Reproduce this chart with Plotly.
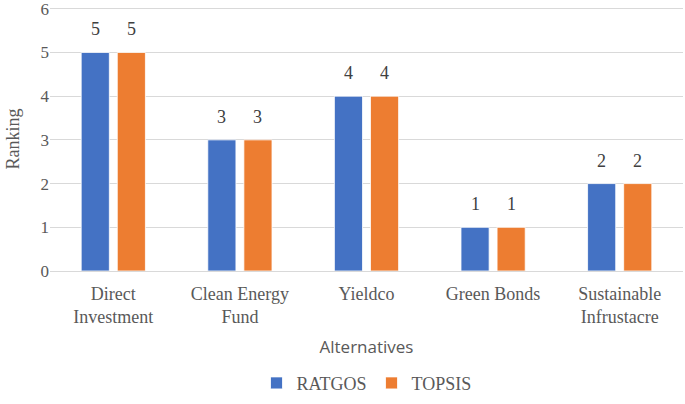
import plotly.graph_objects as go

categories = ["Direct<br>Investment", "Clean Energy<br>Fund", "Yieldco", "Green Bonds", "Sustainable<br>Infrustacre"]
ratgos = [5, 3, 4, 1, 2]
topsis = [5, 3, 4, 1, 2]
y_ticks = [0, 1, 2, 3, 4, 5, 6]

serif = "Liberation Serif, Times New Roman, serif"
sans = "Open Sans, Liberation Sans, sans-serif"

fig = go.Figure()
fig.add_trace(go.Bar(name="RATGOS", x=categories, y=ratgos,
                     marker=dict(color="#4472C4", line=dict(color="white", width=0.8))))
fig.add_trace(go.Bar(name="TOPSIS", x=categories, y=topsis,
                     marker=dict(color="#ED7D31", line=dict(color="white", width=0.8))))

# data labels above bars
for series, shift in ((ratgos, -18), (topsis, 18)):
    for cat, val in zip(categories, series):
        fig.add_annotation(x=cat, y=val, text=str(val), showarrow=False, xshift=shift, yshift=11,
                           yanchor="bottom", font=dict(family=serif, size=18, color="#404040"))

fig.update_layout(
    width=685, height=404,
    margin=dict(l=50, r=2, t=7, b=131),
    paper_bgcolor="white", plot_bgcolor="white",
    barmode="group", bargap=0.43, bargroupgap=0.22,
    font=dict(family=serif, size=17, color="#595959"),
    legend=dict(orientation="h", x=0.5, xanchor="center", y=-0.355, yanchor="top",
                itemwidth=30, font=dict(family=serif, size=18, color="#595959")),
    xaxis=dict(title=dict(text="Alternatives", font=dict(family=sans, size=17, color="#595959"), standoff=15),
               automargin=False, ticklabelstandoff=6,
               showline=True, linecolor="#d9d9d9", linewidth=1, ticks="",
               tickfont=dict(family=serif, size=18, color="#595959")),
    yaxis=dict(title=dict(text="Ranking", font=dict(family=serif, size=18, color="#595959"), standoff=16),
               automargin=False, ticklabeloverflow="allow",
               range=[0, 6.04], tickvals=y_ticks, showgrid=True, gridcolor="#d9d9d9", gridwidth=1,
               zeroline=False, tickfont=dict(family=serif, size=17, color="#595959")),
)
fig.write_html("out.html", config={"displayModeBar": False},
               post_script="document.body.style.margin='0';document.body.style.overflow='hidden';")
